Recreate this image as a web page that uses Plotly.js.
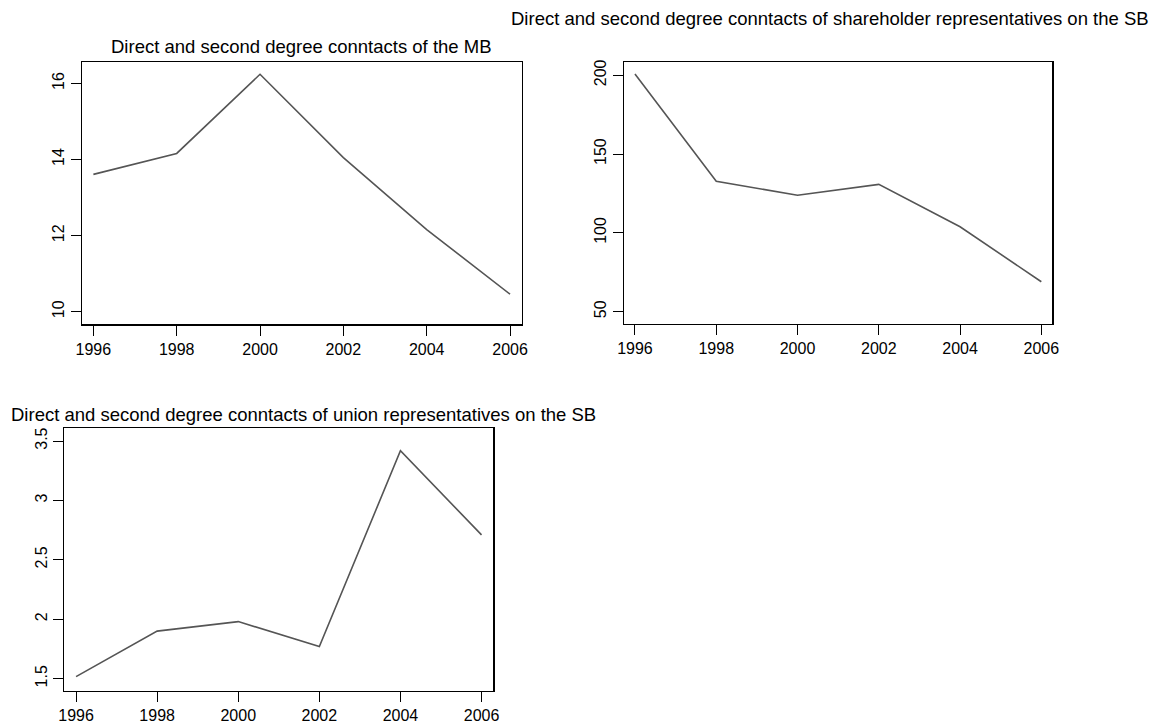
<!DOCTYPE html>
<html>
<head>
<meta charset="utf-8">
<script src="https://cdn.plot.ly/plotly-3.0.1.min.js"></script>
<style>html,body{margin:0;padding:0;background:#fff;}#chart{width:1173px;height:728px;}</style>
</head>
<body>
<div id="chart"></div>
<script>
var years = [1996, 1998, 2000, 2002, 2004, 2006];
var mbContacts = [13.61, 14.16, 16.24, 14.05, 12.16, 10.46];
var shareholderContacts = [200.8, 132.7, 123.9, 130.8, 103.9, 69.0];
var unionContacts = [1.517, 1.90, 1.98, 1.77, 3.418, 2.71];
var titles = [
  "Direct and second degree conntacts of the MB",
  "Direct and second degree conntacts of shareholder representatives on the SB",
  "Direct and second degree conntacts of union representatives on the SB"
];
var xTicks = [1996, 1998, 2000, 2002, 2004, 2006];
var yTicks1 = [10, 12, 14, 16];
var yTicks2 = [50, 100, 150, 200];
var yTicks3 = [1.5, 2, 2.5, 3, 3.5];
var yTickText3 = ["1.5", "2", "2.5", "3", "3.5"];

var W = 1173, H = 728;
function px(x){ return x / W; }
function py(y){ return 1 - y / H; }

var FONT = "Liberation Sans, Arial, Helvetica, sans-serif";
var TICK_SIZE = 16, TITLE_SIZE = 18.5;
var lineStyle = {color: "#555555", width: 1.6};

var traces = [
  {x: years, y: mbContacts, xaxis: "x", yaxis: "y", type: "scatter", mode: "lines", line: lineStyle, hoverinfo: "skip"},
  {x: years, y: shareholderContacts, xaxis: "x2", yaxis: "y2", type: "scatter", mode: "lines", line: lineStyle, hoverinfo: "skip"},
  {x: years, y: unionContacts, xaxis: "x3", yaxis: "y3", type: "scatter", mode: "lines", line: lineStyle, hoverinfo: "skip"}
];

function xax(domain, range, anchor){
  return {domain: domain, range: range, anchor: anchor, tickmode: "array", tickvals: xTicks,
    ticktext: xTicks.map(String), ticks: "outside", ticklen: 10, tickwidth: 1, tickcolor: "#000",
    showline: true, mirror: true, linecolor: "#000", linewidth: 1.2, showgrid: false, zeroline: false,
    tickfont: {family: FONT, size: TICK_SIZE, color: "#000"}, fixedrange: true};
}
function yax(domain, range, anchor, vals, texts){
  return {domain: domain, range: range, anchor: anchor, tickmode: "array", tickvals: vals,
    ticktext: texts || vals.map(String), tickangle: -90, ticks: "outside", ticklen: 10, tickwidth: 1, tickcolor: "#000",
    showline: true, mirror: true, linecolor: "#000", linewidth: 1.2, showgrid: false, zeroline: false,
    tickfont: {family: FONT, size: TICK_SIZE, color: "#000"}, fixedrange: true};
}

var layout = {
  width: W, height: H,
  margin: {l: 0, r: 0, t: 0, b: 0},
  paper_bgcolor: "#fff", plot_bgcolor: "#fff",
  showlegend: false,
  xaxis: xax([px(81.7), px(521.7)], [1995.72, 2006.28], "y"),
  yaxis: yax([py(324.3), py(61.7)], [9.67, 16.57], "x", yTicks1),
  xaxis2: xax([px(624), px(1052.3)], [1995.73, 2006.27], "y2"),
  yaxis2: yax([py(324), py(61.7)], [42.2, 208.6], "x2", yTicks2),
  xaxis3: xax([px(64.3), px(493.3)], [1995.71, 2006.29], "y3"),
  yaxis3: yax([py(691), py(428.3)], [1.396, 3.607], "x3", yTicks3, yTickText3),
  annotations: [
    {text: titles[0], xref: "paper", yref: "paper", x: px(301.7), y: py(46.7), xanchor: "center", yanchor: "middle", showarrow: false, font: {family: FONT, size: TITLE_SIZE, color: "#000"}},
    {text: titles[1], xref: "paper", yref: "paper", x: px(1151), y: py(18), xanchor: "right", yanchor: "middle", showarrow: false, font: {family: FONT, size: TITLE_SIZE, color: "#000"}},
    {text: titles[2], xref: "paper", yref: "paper", x: px(9), y: py(414), xanchor: "left", yanchor: "middle", showarrow: false, font: {family: FONT, size: TITLE_SIZE, color: "#000"}}
  ]
};

Plotly.newPlot("chart", traces, layout, {displayModeBar: false, staticPlot: true});
</script>
</body>
</html>
